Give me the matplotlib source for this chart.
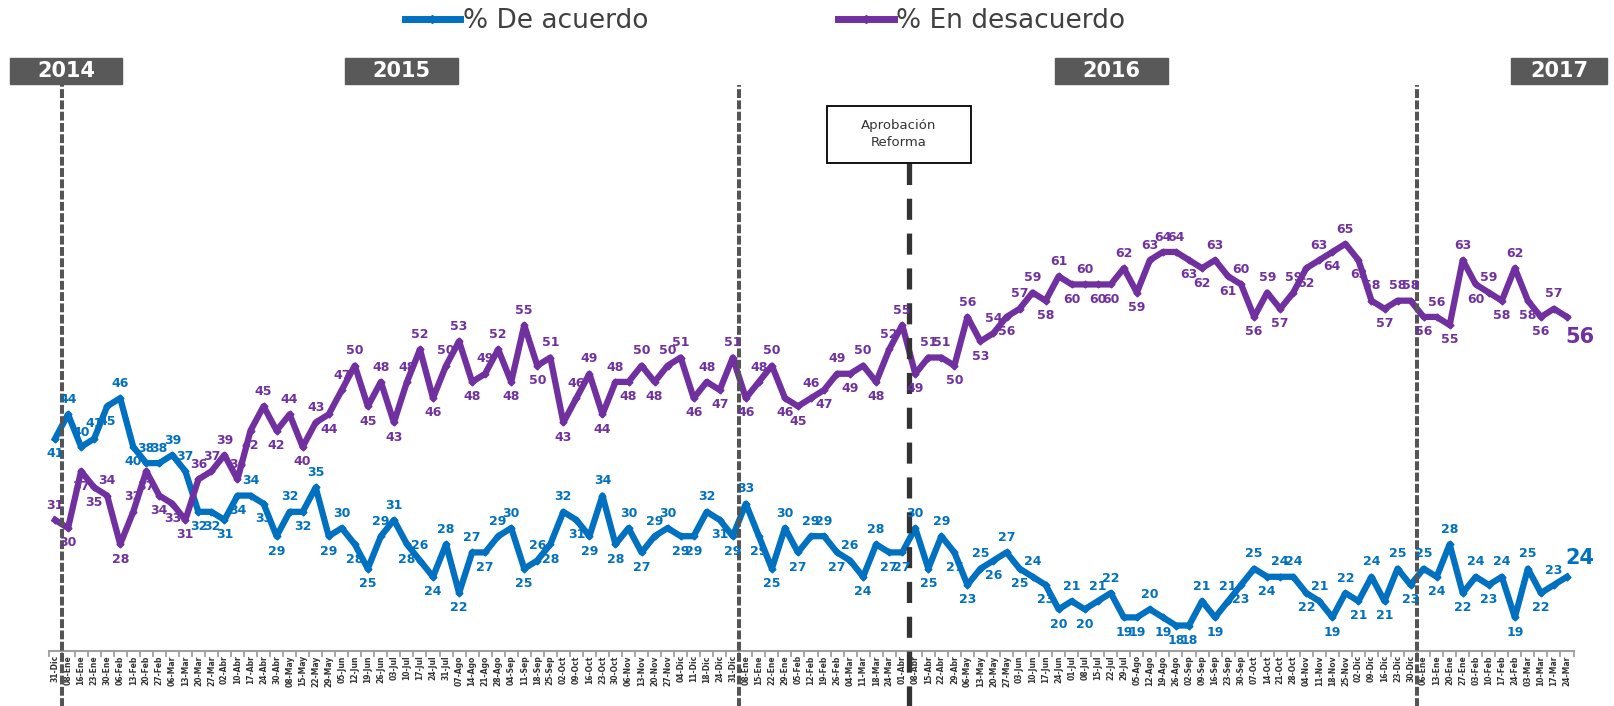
import numpy as np
import matplotlib.pyplot as plt
from matplotlib.lines import Line2D
from matplotlib.patches import Rectangle

AZUL = '#0070C0'
MORADO = '#7030A0'
GRIS_ANIO = '#595959'

FECHAS_2015 = ['08-Ene', '16-Ene', '23-Ene', '30-Ene', '06-Feb', '13-Feb', '20-Feb', '27-Feb',
               '06-Mar', '13-Mar', '20-Mar', '27-Mar', '02-Abr', '10-Abr', '17-Abr', '24-Abr',
               '30-Abr', '08-May', '15-May', '22-May', '29-May', '05-Jun', '12-Jun', '19-Jun',
               '26-Jun', '03-Jul', '10-Jul', '17-Jul', '24-Jul', '31-Jul', '07-Ago', '14-Ago',
               '21-Ago', '28-Ago', '04-Sep', '11-Sep', '18-Sep', '25-Sep', '02-Oct', '09-Oct',
               '16-Oct', '23-Oct', '30-Oct', '06-Nov', '13-Nov', '20-Nov', '27-Nov', '04-Dic',
               '11-Dic', '18-Dic', '24-Dic', '31-Dic']
FECHAS_2016 = ['08-Ene', '15-Ene', '22-Ene', '29-Ene', '05-Feb', '12-Feb', '19-Feb', '26-Feb',
               '04-Mar', '11-Mar', '18-Mar', '24-Mar', '01-Abr', '08-Abr', '15-Abr', '22-Abr',
               '29-Abr', '06-May', '13-May', '20-May', '27-May', '03-Jun', '10-Jun', '17-Jun',
               '24-Jun', '01-Jul', '08-Jul', '15-Jul', '22-Jul', '29-Jul', '05-Ago', '12-Ago',
               '19-Ago', '26-Ago', '02-Sep', '09-Sep', '16-Sep', '23-Sep', '30-Sep', '07-Oct',
               '14-Oct', '21-Oct', '28-Oct', '04-Nov', '11-Nov', '18-Nov', '25-Nov', '02-Dic',
               '09-Dic', '16-Dic', '23-Dic', '30-Dic']
FECHAS_2017 = ['06-Ene', '13-Ene', '20-Ene', '27-Ene', '03-Feb', '10-Feb', '17-Feb', '24-Feb',
               '03-Mar', '10-Mar', '17-Mar', '24-Mar']
FECHAS = ['31-Dic'] + FECHAS_2015 + FECHAS_2016 + FECHAS_2017

DE_ACUERDO = [41, 44, 40, 41, 45, 46, 40, 38, 38, 39, 37, 32, 32, 31, 34, 34, 33, 29, 32,
              32, 35, 29, 30, 28, 25, 29, 31, 28, 26, 24, 28, 22, 27, 27, 29, 30, 25, 26, 28,
              32, 31, 29, 34, 28, 30, 27, 29, 30, 29, 29, 32, 31, 29, 33, 29, 25, 30, 27,
              29, 29, 27, 26, 24, 28, 27, 27, 30, 25, 29, 27, 23, 25, 26, 27, 25, 24, 23, 20,
              21, 20, 21, 22, 19, 19, 20, 19, 18, 18, 21, 19, 21, 23, 25, 24, 24, 24, 22, 21,
              19, 22, 21, 24, 21, 25, 23, 25, 24, 28, 22, 24, 23, 24, 19, 25, 22, 23, 24]
EN_DESACUERDO = [31, 30, 37, 35, 34, 28, 32, 37, 34, 33, 31, 36, 37, 39, 36, 42, 45, 42, 44,
                 40, 43, 44, 47, 50, 45, 48, 43, 48, 52, 46, 50, 53, 48, 49, 52, 48, 55, 50, 51,
                 43, 46, 49, 44, 48, 48, 50, 48, 50, 51, 46, 48, 47, 51, 46, 48, 50, 46, 45,
                 46, 47, 49, 49, 50, 48, 52, 55, 49, 51, 51, 50, 56, 53, 54, 56, 57, 59, 58, 61,
                 60, 60, 60, 60, 62, 59, 63, 64, 64, 63, 62, 63, 61, 60, 56, 59, 57, 59, 62, 63,
                 64, 65, 63, 58, 57, 58, 58, 56, 56, 55, 63, 60, 59, 58, 62, 58, 56, 57, 56]

ANIOS = ['2014', '2015', '2016', '2017']
CORTES_ANIO = [0.5, 52.5, 104.5]
REFORMA = 65.5

W, H = 1614, 706
fig = plt.figure(figsize=(W / 100, H / 100), dpi=100)
ax = fig.add_axes([48.5 / W, 55 / H, 1525 / W, 566 / H])

x = np.arange(len(FECHAS))
ax.plot(x, DE_ACUERDO, color=AZUL, lw=4.5, marker='D', ms=3.5,
        solid_joinstyle='round', zorder=3)
ax.plot(x, EN_DESACUERDO, color=MORADO, lw=4.5, marker='D', ms=3.5,
        solid_joinstyle='round', zorder=3)


def lados(vals, otra):
    # True = etiqueta arriba, False = abajo
    n = len(vals)
    res = []
    for i, v in enumerate(vals):
        prev = vals[i - 1] if i > 0 else v
        nxt = vals[i + 1] if i < n - 1 else v
        if abs(v - otra[i]) < 7:
            arriba = v > otra[i]
        elif (v > prev and v >= nxt) or (v >= prev and v > nxt):
            arriba = True
        elif (v < prev and v <= nxt) or (v <= prev and v < nxt):
            arriba = False
        else:
            arriba = not res[-1] if res else True
        res.append(arriba)
    return res


def etiquetas(vals, otra, color):
    for i, (v, arriba) in enumerate(zip(vals[:-1], lados(vals, otra))):
        dy = 6 if arriba else -6
        ax.annotate(str(v), (i, v), xytext=(0, dy), textcoords='offset points',
                    ha='center', va='bottom' if arriba else 'top',
                    fontsize=9, fontweight='bold', color=color, zorder=5)


etiquetas(DE_ACUERDO, EN_DESACUERDO, AZUL)
etiquetas(EN_DESACUERDO, DE_ACUERDO, MORADO)
ax.annotate(str(EN_DESACUERDO[-1]), (x[-1], EN_DESACUERDO[-1]), xytext=(9, -7),
            textcoords='offset points', ha='center', va='top', fontsize=15,
            fontweight='bold', color=MORADO)
ax.annotate(str(DE_ACUERDO[-1]), (x[-1], DE_ACUERDO[-1]), xytext=(9, 6),
            textcoords='offset points', ha='center', va='bottom', fontsize=15,
            fontweight='bold', color=AZUL)

# lineas de cambio de anio y de la reforma
for c in CORTES_ANIO:
    ax.axvline(c, ymin=-0.1, ymax=1.0, color='#555555', lw=2.9, dashes=(2.2, 0.6),
               clip_on=False, zorder=4)
ax.axvline(REFORMA, ymin=-0.1, ymax=(651 - 163) / 566, color='#333333', lw=3.8,
           dashes=(4, 2.6), clip_on=False, zorder=4)

ax.set_xlim(-0.5, len(FECHAS) - 0.5)
ax.set_ylim(14.86, 84.56)
ax.set_xticks(x)
ax.set_xticklabels(FECHAS, rotation=90, fontsize=5.5, fontweight='bold', color='#333333')
ax.set_xticks(np.arange(len(FECHAS) + 1) - 0.5, minor=True)
ax.tick_params(axis='x', which='major', length=0, pad=3)
ax.tick_params(axis='x', which='minor', length=4, color='#999999', width=1.2)
ax.set_yticks([])
for s in ['top', 'right', 'left']:
    ax.spines[s].set_visible(False)
ax.spines['bottom'].set_color('#a0a0a0')
ax.spines['bottom'].set_linewidth(1.5)

# cajas de anio
CAJAS = [(10, 122), (345, 458), (1055, 1168), (1511, 1607)]
for anio, (x0, x1) in zip(ANIOS, CAJAS):
    fig.add_artist(Rectangle((x0 / W, 1 - 84 / H), (x1 - x0) / W, 26 / H,
                             transform=fig.transFigure, color=GRIS_ANIO, zorder=5))
    fig.text((x0 + x1) / 2 / W, 1 - 71 / H, anio, ha='center', va='center',
             color='white', fontsize=15, fontweight='bold', zorder=6)

# caja de la reforma
fig.add_artist(Rectangle((827 / W, 1 - 163 / H), 144 / W, 57 / H, transform=fig.transFigure,
                         facecolor='white', edgecolor='black', lw=1.3, zorder=5))
fig.text(899 / W, 1 - 134 / H, 'Aprobación\nReforma', ha='center', va='center',
         fontsize=9.5, color='#333333', linespacing=1.3, zorder=6)

handles = [Line2D([], [], color=AZUL, lw=5, marker='D', ms=4),
           Line2D([], [], color=MORADO, lw=5, marker='D', ms=4)]
leg = fig.legend(handles, ['% De acuerdo', '% En desacuerdo'], loc='center',
                 bbox_to_anchor=(765 / W, 1 - 21 / H), ncol=2, frameon=False, fontsize=19,
                 handlelength=2.1, handletextpad=0.1, columnspacing=7.2)
for t in leg.get_texts():
    t.set_color('#404040')

fig.savefig('out.png', dpi=100)
